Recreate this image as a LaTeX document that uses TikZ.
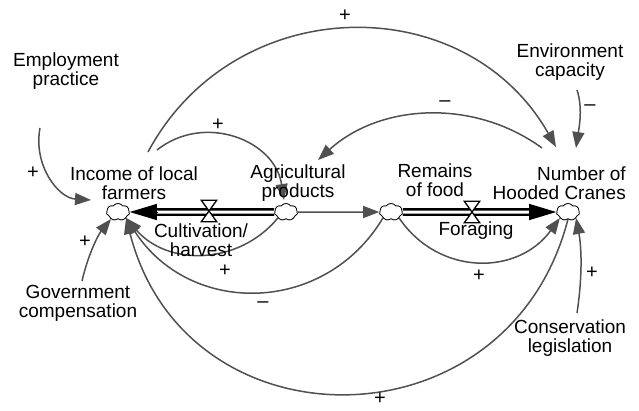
\documentclass[tikz,border=0pt]{standalone}
\usepackage{fontspec}
\setmainfont{Liberation Sans}
\usetikzlibrary{arrows.meta, shapes.symbols, calc}
\definecolor{linkgray}{HTML}{505050}

\begin{document}
\begin{tikzpicture}[
            x=1pt, y=-1pt,
            varname/.style={font=\fontsize{19}{19}\selectfont, align=center, inner sep=0pt},
            polarity/.style={font=\fontsize{20}{20}\selectfont, inner sep=0pt},
            cloudnode/.style={cloud, cloud puffs=7, cloud puff arc=110, aspect=1.4, draw=black, fill=white, line width=0.7pt, inner sep=0pt, minimum width=23pt, minimum height=17pt},
            valvebox/.style={inner sep=0pt, minimum width=15pt, minimum height=21pt},
            valveline/.style={draw=black, fill=white, line width=1.3pt, line join=miter},
            pipe/.style={draw=black, double=white, double distance=3pt, line width=2.3pt},
            flowhead/.style={-{Triangle[length=27pt, width=16pt]}, draw=black, line width=1pt},
            causal/.style={-{Triangle[length=16pt, width=12pt]}, draw=linkgray, line width=1.5pt}
        ]
            \useasboundingbox (0,0) rectangle (639,410);

% Stocks and flows
            \node[cloudnode] (incCloud) at (118,212) {};
            \node[cloudnode] (agriCloud) at (286,212) {};
            \node[cloudnode] (remCloud) at (391,212) {};
            \node[cloudnode] (craneCloud) at (568,212) {};
            \node[valvebox] (cultValve) at (209,211) {};
            \node[valvebox] (foragValve) at (472,212) {};

% Connector ends
            \coordinate (empOut) at (40,128);
            \coordinate (incIn) at (91,200);
            \coordinate (incArcOut) at (148,152);
            \coordinate (craneArcIn) at (556,147);
            \coordinate (incLoopOut) at (157,150);
            \coordinate (agriIn) at (284,200);
            \coordinate (craneOut) at (542,148);
            \coordinate (agriBack) at (318,160);
            \coordinate (envOut) at (577,90);
            \coordinate (craneTopIn) at (576,148);
            \coordinate (govOut) at (82,281);
            \coordinate (govIn) at (111,219);
            \coordinate (consOut) at (577,313);

% Edges
            \draw[causal] (empOut) .. controls (33,165) and (58,198) .. (incIn);
            \draw[causal] (incArcOut) .. controls (234.6,-9.5) and (465.5,-12.4) .. (craneArcIn);
            \draw[causal] (incLoopOut) .. controls (204.5,112.4) and (274.9,140.1) .. (agriIn);
            \draw[causal] (craneOut) .. controls (474,98.4) and (380.4,103.4) .. (agriBack);
            \draw[causal] (envOut) .. controls (583,108) and (579,128) .. (craneTopIn);
            \draw[causal] (agriCloud) -- (remCloud);
            \draw[causal] (remCloud.south east) .. controls (438.5,276) and (517.5,276) .. (craneCloud.south west);
            \draw[causal] (agriCloud.south west) .. controls (238,266) and (167,266) .. (incCloud.south east);
            \draw[causal] (remCloud.south west) .. controls (325,315) and (190,317) .. (incCloud.south east);
            \draw[causal] (govOut) .. controls (88,255) and (98,235) .. (govIn);
            \draw[causal] (craneCloud.south) .. controls (508.6,450.3) and (185.5,451.8) .. (incCloud.south east);
            \draw[causal] (consOut) .. controls (582,280) and (582,250) .. (craneCloud.south east);

% Pipes
            \draw[pipe, shorten >=22pt] (agriCloud) -- (incCloud);
            \coordinate (cultHead) at ($(incCloud.east)+(27,0)$);
            \draw[flowhead] (cultHead) -- (incCloud.east);
            \draw[pipe, shorten >=22pt] (remCloud) -- (craneCloud);
            \coordinate (foragHead) at ($(craneCloud.west)+(-27,0)$);
            \draw[flowhead] (foragHead) -- (craneCloud.west);
            \draw[valveline] (cultValve.north west) -- (cultValve.north east) -- (cultValve.south west) -- (cultValve.south east) -- cycle;
            \draw[valveline] (foragValve.north west) -- (foragValve.north east) -- (foragValve.south west) -- (foragValve.south east) -- cycle;
            \node[cloudnode] at (incCloud) {};
            \node[cloudnode] at (agriCloud) {};
            \node[cloudnode] at (remCloud) {};
            \node[cloudnode] at (craneCloud) {};

% Variable names
            \node[varname] (incLabel) at (134,183) {Income of local\\farmers};
            \node[varname] (agriLabel) at (298,183) {Agricultural\\products};
            \node[varname] (remLabel) at (435,180) {Remains\\of food};
            \node[varname, align=right, anchor=east] (craneLabel) at (626,183) {Number of\\Hooded Cranes};
            \node[varname] (cultLabel) at (201,240) {Cultivation/\\harvest};
            \node[varname] (foragLabel) at (476,231) {Foraging};
            \node[varname] (empLabel) at (66,71) {Employment\\practice};
            \node[varname] (envLabel) at (570,62) {Environment\\capacity};
            \node[varname] (govLabel) at (78,303) {Government\\compensation};
            \node[varname] (consLabel) at (570,338) {Conservation\\legislation};

% Polarities
            \node[polarity] (empSign) at (33,173) {+};
            \node[polarity] (loopSign) at (218,125) {+};
            \node[polarity] (topSign) at (345,16) {+};
            \node[polarity] (backSign) at (445,104) {–};
            \node[polarity] (envSign) at (590,108) {–};
            \node[polarity] (govSign) at (85,242) {+};
            \node[polarity] (agriSign) at (225,271) {+};
            \node[polarity] (remSign) at (263,305) {–};
            \node[polarity] (forSign) at (479,276) {+};
            \node[polarity] (consSign) at (592,273) {+};
            \node[polarity] (bottomSign) at (380,399) {+};

        \end{tikzpicture}
\end{document}
